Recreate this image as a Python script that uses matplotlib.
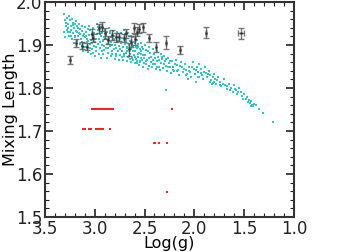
import numpy as np
import matplotlib
matplotlib.use('Agg')
import matplotlib.pyplot as plt
from matplotlib.ticker import MultipleLocator

# cloud of models (log g, mixing length)
cloud = [
    (3.31,1.972),(3.30,1.958),(3.29,1.945),(3.31,1.93),(3.28,1.962),(3.27,1.95),(3.28,1.935),
    (3.26,1.922),(3.25,1.958),(3.24,1.945),(3.25,1.93),(3.23,1.915),(3.22,1.952),(3.21,1.94),
    (3.22,1.928),(3.20,1.918),(3.21,1.905),(3.19,1.955),(3.18,1.945),(3.19,1.932),(3.17,1.922),
    (3.18,1.91),(3.16,1.95),(3.15,1.938),(3.16,1.927),(3.14,1.915),(3.15,1.903),(3.30,1.918),
    (3.27,1.94),(3.24,1.936),(3.20,1.948),(3.17,1.94),(3.13,1.945),(3.26,1.968),(3.23,1.96),
    (3.13,1.932),(3.12,1.92),(3.13,1.908),(3.11,1.895),(3.12,1.885),(3.10,1.942),(3.09,1.93),
    (3.10,1.918),(3.08,1.906),(3.09,1.896),(3.07,1.884),(3.06,1.945),(3.05,1.935),(3.06,1.924),
    (3.04,1.912),(3.05,1.902),(3.03,1.89),(3.04,1.878),(3.02,1.94),(3.01,1.928),(3.02,1.918),
    (3.00,1.908),(3.01,1.898),(2.99,1.886),(3.00,1.874),(2.98,1.948),(2.97,1.936),(2.98,1.925),
    (2.96,1.914),(2.97,1.903),(2.95,1.892),(2.96,1.88),(2.94,1.87),(3.08,1.915),(3.03,1.925),
    (2.99,1.915),(3.11,1.925),(3.07,1.938),
    (2.94,1.942),(2.93,1.93),(2.94,1.92),(2.92,1.91),(2.93,1.9),(2.91,1.888),(2.92,1.878),
    (2.90,1.935),(2.89,1.924),(2.90,1.913),(2.88,1.903),(2.89,1.892),(2.87,1.882),(2.88,1.87),
    (2.86,1.94),(2.85,1.928),(2.86,1.917),(2.84,1.907),(2.85,1.897),(2.83,1.886),(2.84,1.875),
    (2.82,1.932),(2.81,1.922),(2.82,1.911),(2.80,1.9),(2.81,1.89),(2.79,1.88),(2.80,1.868),
    (2.78,1.93),(2.77,1.918),(2.78,1.908),(2.76,1.897),(2.77,1.887),(2.75,1.877),(2.76,1.866),
    (2.91,1.918),(2.87,1.912),(2.83,1.9),(2.79,1.893),(2.95,1.925),(2.88,1.93),(2.84,1.918),
    (2.74,1.928),(2.73,1.916),(2.74,1.905),(2.72,1.895),(2.73,1.885),(2.71,1.874),(2.72,1.864),
    (2.70,1.925),(2.69,1.913),(2.70,1.902),(2.68,1.892),(2.69,1.882),(2.67,1.872),(2.68,1.862),
    (2.66,1.92),(2.65,1.91),(2.66,1.9),(2.64,1.89),(2.65,1.88),(2.63,1.87),(2.64,1.86),
    (2.62,1.918),(2.61,1.907),(2.62,1.897),(2.60,1.887),(2.61,1.877),(2.59,1.867),(2.60,1.857),
    (2.58,1.912),(2.57,1.902),(2.58,1.892),(2.56,1.882),(2.57,1.872),(2.55,1.863),(2.56,1.853),
    (2.54,1.905),(2.53,1.895),(2.54,1.885),(2.52,1.876),(2.53,1.866),(2.51,1.858),(2.52,1.848),
    (2.71,1.935),(2.67,1.928),(2.63,1.9),(2.59,1.895),(2.55,1.89),(2.65,1.868),(2.60,1.872),
    (2.57,1.88),(2.62,1.885),(2.68,1.895),(2.58,1.862),(2.54,1.87),
    (2.49,1.9),(2.48,1.888),(2.49,1.877),(2.47,1.866),(2.48,1.855),(2.46,1.845),(2.45,1.895),
    (2.44,1.882),(2.45,1.87),(2.43,1.86),(2.42,1.848),(2.41,1.89),(2.40,1.878),(2.41,1.866),
    (2.39,1.855),(2.38,1.844),(2.37,1.885),(2.36,1.872),(2.37,1.862),(2.35,1.85),(2.33,1.88),
    (2.32,1.868),(2.33,1.857),(2.31,1.846),(2.30,1.875),(2.29,1.862),(2.28,1.852),(2.27,1.84),
    (2.26,1.87),(2.25,1.858),(2.24,1.848),(2.23,1.836),(2.22,1.862),(2.21,1.85),(2.20,1.84),
    (2.28,1.795),
    (2.18,1.866),(2.17,1.853),(2.16,1.843),(2.15,1.83),(2.13,1.86),(2.12,1.848),(2.11,1.838),
    (2.09,1.855),(2.08,1.843),(2.07,1.832),(2.05,1.85),(2.04,1.838),(2.03,1.826),(2.01,1.86),
    (2.00,1.845),(1.99,1.833),(1.97,1.85),(1.96,1.838),(1.95,1.826),(1.93,1.845),(1.92,1.83),
    (1.91,1.82),(1.95,1.855),(2.06,1.82),(1.98,1.815),
    (1.89,1.848),(1.88,1.835),(1.87,1.825),(1.85,1.84),(1.84,1.83),(1.83,1.818),(1.82,1.81),
    (1.80,1.832),(1.79,1.82),(1.78,1.81),(1.80,1.815),(1.81,1.812),(1.76,1.826),(1.74,1.815),
    (1.73,1.805),(1.70,1.82),(1.69,1.808),(1.67,1.798),(1.65,1.81),(1.63,1.8),(1.61,1.79),
    (1.60,1.808),(1.58,1.795),(1.57,1.785),(1.55,1.8),
    (1.53,1.79),(1.52,1.782),(1.50,1.785),(1.48,1.775),(1.47,1.78),(1.45,1.772),(1.44,1.765),
    (1.43,1.77),(1.42,1.76),(1.41,1.758),(1.40,1.762),(1.38,1.76),(1.31,1.742),(1.21,1.722),
    (3.285,1.952),(3.265,1.93),(3.235,1.922),(3.215,1.946),(3.195,1.92),(3.175,1.93),
    (3.145,1.925),(3.125,1.898),(3.105,1.905),(3.085,1.922),(3.065,1.91),(3.045,1.893),
    (3.025,1.905),(3.015,1.882),(2.985,1.895),(2.965,1.942),(2.945,1.908),(2.925,1.887),
    (2.905,1.898),(2.885,1.915),(2.865,1.893),(2.845,1.93),(2.825,1.878),(2.805,1.915),
    (2.785,1.874),(2.765,1.91),(2.745,1.89),(2.725,1.872),(2.705,1.88),(2.685,1.91),
    (2.675,1.885),(2.655,1.875),(2.635,1.92),(2.615,1.865),(2.595,1.905),(2.575,1.857),
    (2.565,1.895),(2.545,1.86),(2.535,1.878),(2.515,1.89),(2.505,1.87),(2.485,1.862),
    (2.465,1.885),(2.455,1.852),(2.435,1.872),(2.415,1.856),(2.395,1.87),(2.375,1.85),
    (2.355,1.866),(2.345,1.842),(2.325,1.872),(2.305,1.855),(2.285,1.868),(2.265,1.85),
    (2.245,1.862),(2.215,1.842),(2.195,1.855),(2.175,1.84),(2.145,1.852),(2.105,1.845),
    (2.085,1.83),(2.055,1.84),(2.025,1.848),(1.985,1.842),(1.965,1.826),(1.935,1.835),
    (1.905,1.838),(1.865,1.832),(1.845,1.815),(1.815,1.825),(1.775,1.818),(1.745,1.808),
    (1.715,1.81),(1.675,1.805),(1.645,1.795),(1.595,1.798),(1.565,1.79),(1.515,1.775),
    (1.465,1.768),(1.435,1.758),(1.35,1.75),
]
cloud_x = [p[0] for p in cloud]
cloud_y = [p[1] for p in cloud]

# stars with error bars
star_g = [3.25, 3.19, 3.13, 3.075, 3.03, 3.015, 2.96, 2.925, 2.90, 2.865, 2.825, 2.79,
          2.757, 2.71, 2.69, 2.66, 2.64, 2.61, 2.60, 2.58, 2.56, 2.52, 2.456, 2.38,
          2.28, 2.145, 1.88, 1.535]
star_a = [1.865, 1.905, 1.898, 1.896, 1.925, 1.916, 1.939, 1.943, 1.927, 1.912, 1.923, 1.918,
          1.919, 1.916, 1.927, 1.89, 1.908, 1.939, 1.913, 1.931, 1.938, 1.941, 1.916, 1.895,
          1.905, 1.888, 1.929, 1.927]
star_aerr = [0.009, 0.01, 0.008, 0.008, 0.012, 0.01, 0.01, 0.01, 0.012, 0.01, 0.012, 0.01,
             0.01, 0.01, 0.01, 0.015, 0.012, 0.012, 0.012, 0.01, 0.01, 0.01, 0.01, 0.012,
             0.015, 0.01, 0.013, 0.012]
star_gerr = [0]*27 + [0.03]

# red models
red_x = [3.03, 3.02, 3.00, 2.99, 2.98, 2.97, 2.96, 2.95, 2.94, 2.93, 2.92, 2.91, 2.90,
         2.89, 2.88, 2.87, 2.86, 2.85, 2.84, 2.83, 2.82, 2.22,
         3.12, 3.11, 3.10, 3.06, 3.05, 3.04, 2.99, 2.98, 2.97, 2.96, 2.95, 2.93, 2.92, 2.85,
         2.405, 2.39, 2.355, 2.272, 2.272]
red_y = [1.75]*22 + [1.705]*14 + [1.672]*4 + [1.558]

plt.rcParams['font.family'] = 'DejaVu Sans'
fig = plt.figure(figsize=(3.54, 2.52), dpi=100)
ax = fig.add_axes([0.127, 0.139, 0.703, 0.853])

ax.scatter(cloud_x, cloud_y, s=3.5, marker='s', color='#33c8c8', linewidths=0)
ax.scatter(red_x, red_y, s=3, marker='s', color='#ff2020', linewidths=0)
ax.errorbar(star_g, star_a, yerr=star_aerr, xerr=star_gerr, fmt='.', ms=2,
            color='#303030', ecolor='#505050', elinewidth=1, capsize=2, capthick=1, alpha=0.75)

ax.set_xlim(3.5, 1.0)
ax.set_ylim(1.5, 2.0)
ax.xaxis.set_major_locator(MultipleLocator(0.5))
ax.xaxis.set_minor_locator(MultipleLocator(0.1))
ax.yaxis.set_major_locator(MultipleLocator(0.1))
ax.yaxis.set_minor_locator(MultipleLocator(0.02))
ax.tick_params(which='both', direction='in', top=True, right=True, labelsize=12, colors='#222222')
ax.tick_params(which='major', length=6, width=1.2, pad=2)
ax.tick_params(which='minor', length=3, width=0.8)
for s in ax.spines.values():
    s.set_linewidth(1.5)
    s.set_color('#333333')
ax.set_xlabel('Log(g)', fontsize=11.5, labelpad=-1)
ax.set_ylabel('Mixing Length', fontsize=11.5)
ax.yaxis.set_label_coords(-0.11, 0.5)

fig.savefig('out.png', dpi=100)
